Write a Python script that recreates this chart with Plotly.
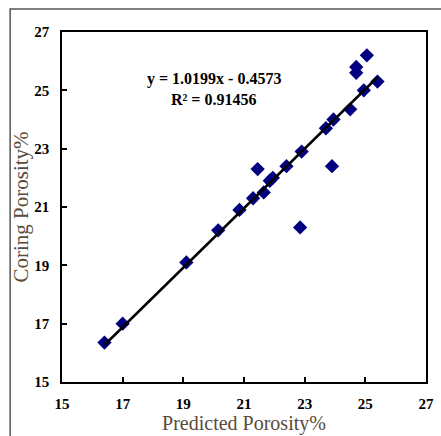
import plotly.graph_objects as go

predicted = [16.4, 17.0, 19.1, 20.15, 20.85, 21.3, 21.45, 21.65, 21.85, 21.95, 22.4,
             22.9, 22.85, 23.7, 23.95, 23.9, 24.5, 24.7, 24.7, 24.95, 25.05, 25.4]
coring = [16.35, 17.0, 19.1, 20.2, 20.9, 21.3, 22.3, 21.5, 21.9, 22.0, 22.4,
          22.9, 20.3, 23.7, 24.0, 22.4, 24.35, 25.8, 25.6, 25.0, 26.2, 25.3]
slope = 1.0199
intercept = -0.4573
r2 = 0.91456
tick_vals = [15, 17, 19, 21, 23, 25, 27]

x_fit = [min(predicted), max(predicted)]
y_fit = [slope * v + intercept for v in x_fit]

fig = go.Figure()
fig.add_trace(go.Scatter(x=predicted, y=coring, mode="markers",
                         marker=dict(symbol="diamond", size=11, color="#000080"),
                         showlegend=False))
fig.add_trace(go.Scatter(x=x_fit, y=y_fit, mode="lines",
                         line=dict(color="black", width=2.5), showlegend=False))

serif = "Liberation Serif"
fig.add_annotation(x=0.417, y=0.898, xref="paper", yref="paper", showarrow=False,
                   text=f"<b>y = {slope}x - {abs(intercept)}</b>",
                   font=dict(family=serif, size=16, color="black"))
fig.add_annotation(x=0.417, y=0.838, xref="paper", yref="paper", showarrow=False,
                   text=f"<b>R² = {r2}</b>",
                   font=dict(family=serif, size=16, color="black"))

fig.add_shape(type="rect", xref="paper", yref="paper",
              x0=(9 - 62) / 372, x1=(460 - 62) / 372,
              y0=(382 - 460) / 350, y1=(382 - 9) / 350,
              line=dict(color="#555555", width=1.5), layer="below")

axis_common = dict(range=[15, 27], tickvals=tick_vals, showgrid=False, zeroline=False,
                   showline=True, linecolor="black", linewidth=1.5, mirror=True,
                   ticks="inside", ticklen=5, tickwidth=1.5, tickcolor="black",
                   tickfont=dict(family=serif, size=15, color="black", weight="bold"))

fig.update_xaxes(**axis_common, ticklabelstandoff=7,
                 title=dict(text="Predicted Porosity%", standoff=3,
                            font=dict(family=serif, size=20, color="#5a4a3a")))
fig.update_yaxes(**axis_common, ticklabelstandoff=8,
                 title=dict(text="Coring Porosity%", standoff=0,
                            font=dict(family=serif, size=21, color="#5a4a3a")))

fig.update_layout(width=441, height=436, margin=dict(l=62, r=7, t=32, b=54),
                  plot_bgcolor="white", paper_bgcolor="white")
fig.write_html("out.html")
